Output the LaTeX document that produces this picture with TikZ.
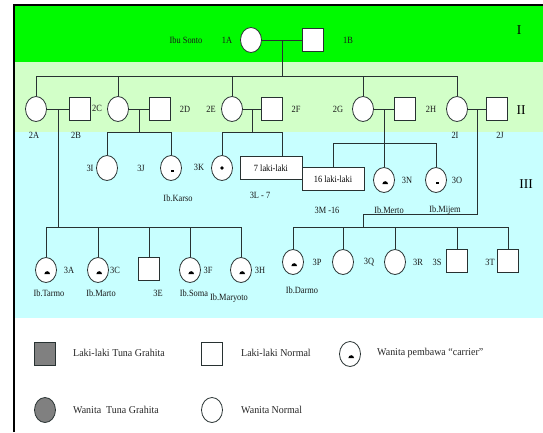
\documentclass[tikz,border=0pt]{standalone}
\usepackage{fontspec}
\setmainfont{Liberation Serif}
\newfontfamily\legfont[FakeStretch=0.95]{Liberation Serif}
\newfontfamily\lblfont[FakeStretch=0.88]{Liberation Serif}
\usetikzlibrary{shapes.geometric,calc}
\definecolor{bandA}{RGB}{0,250,0}
\definecolor{bandB}{RGB}{210,255,200}
\definecolor{bandC}{RGB}{200,255,255}
\definecolor{ln}{RGB}{40,50,50}
\definecolor{affected}{RGB}{128,128,128}
\tikzset{
  conn/.style={draw=ln, line width=0.8pt},
  fem/.style={ellipse, draw=ln, line width=0.8pt, fill=white, minimum width=21pt, minimum height=25pt, inner sep=0pt},
  male/.style={rectangle, draw=ln, line width=0.8pt, fill=white, minimum width=21pt, minimum height=23pt, inner sep=0pt},
  carrier/.style={fem, path picture={\fill[black] ([xshift=1.2pt,yshift=-4pt]path picture bounding box.center) ++(-2.8pt,0pt) arc[start angle=180,end angle=0,radius=2.8pt] -- cycle;}},
  dotcarrier/.style={fem, path picture={\fill[black] (path picture bounding box.center) circle[radius=1.8pt];}},
  dashcarrier/.style={fem, path picture={\fill[black] ([xshift=0pt,yshift=-4pt]path picture bounding box.center) rectangle ++(3.2pt,2.2pt);}},
  grpbox/.style={rectangle, draw=ln, line width=0.8pt, fill=white, minimum width=62pt, minimum height=23pt, inner sep=0pt, font=\lblfont\fontsize{9.5}{10}\selectfont},
  lbl/.style={font=\lblfont\fontsize{9.5}{11}\selectfont, inner sep=0pt, text=black!90},
  rom/.style={font=\fontsize{13.5}{15}\selectfont, inner sep=0pt},
  legtxt/.style={font=\legfont\fontsize{10.5}{12}\selectfont, anchor=west, inner sep=0pt, text=black!85}
}
\begin{document}
\begin{tikzpicture}[x=1pt,y=-1pt]
\useasboundingbox (0,0) rectangle (543,432);
\fill[white] (0,0) rectangle (543,432);
\fill[bandA] (14,5) rectangle (543,62);
\fill[bandB] (14,62) rectangle (543,132);
\fill[bandC] (14,132) rectangle (543,318);
\draw[line width=1.5pt] (14,432) -- (14,5) -- (543,5);

% Generation I
\node[fem] (1A) at (251,40) {};
\node[male] (1B) at (313,40) {};
\node[lbl] (tIbu) at (186,40) {Ibu Sonto};
\node[lbl] (t1A) at (227,40) {1A};
\node[lbl] (t1B) at (348,40) {1B};
\node[rom] (gI) at (519,30) {I};

% Generation II
\node[fem] (2A) at (36,109) {};
\node[male] (2B) at (80,109) {};
\node[fem] (2C) at (118,109) {};
\node[male] (2D) at (160,109) {};
\node[fem] (2E) at (232,109) {};
\node[male] (2F) at (272,109) {};
\node[fem] (2G) at (363,109) {};
\node[male] (2H) at (405,109) {};
\node[fem] (2I) at (457,109) {};
\node[male] (2J) at (497,109) {};
\node[lbl] (t2A) at (34,135) {2A};
\node[lbl] (t2B) at (76,135) {2B};
\node[lbl] (t2C) at (97,108) {2C};
\node[lbl] (t2D) at (185,109) {2D};
\node[lbl] (t2E) at (211,109) {2E};
\node[lbl] (t2F) at (296,109) {2F};
\node[lbl] (t2G) at (338,109) {2G};
\node[lbl] (t2H) at (431,109) {2H};
\node[lbl] (t2I) at (455,135) {2I};
\node[lbl] (t2J) at (500,135) {2J};
\node[rom] (gII) at (521,110) {II};

% Generation III upper
\node[fem] (3I) at (107,168) {};
\node[dashcarrier] (3J) at (171,168) {};
\node[dotcarrier] (3K) at (222,168) {};
\node[grpbox] (L7) at (271,168) {7 laki-laki};
\node[grpbox] (M16) at (333,179) {16 laki-laki};
\node[carrier] (3N) at (384,180) {};
\node[dashcarrier] (3O) at (436,180) {};
\node[lbl] (t3I) at (90,168) {3I};
\node[lbl] (t3J) at (141,168) {3J};
\node[lbl] (t3K) at (199,167) {3K};
\node[lbl] (tKarso) at (178,198) {Ib.Karso};
\node[lbl] (t3L) at (260,195) {3L - 7};
\node[lbl] (t3M) at (327,210) {3M -16};
\node[lbl] (t3N) at (407,180) {3N};
\node[lbl] (t3O) at (457,180) {3O};
\node[lbl] (tMerto) at (389,210) {Ib.Merto};
\node[lbl] (tMijem) at (445,210) {Ib.Mijem};
\node[rom] (gIII) at (526,184) {III};

% Generation III lower left
\node[carrier] (3A) at (46,270) {};
\node[carrier] (3C) at (98,270) {};
\node[male] (3E) at (149,269) {};
\node[carrier] (3F) at (190,270) {};
\node[carrier] (3H) at (241,270) {};
\node[lbl] (t3A) at (69,270) {3A};
\node[lbl] (t3C) at (115,270) {3C};
\node[lbl] (t3E) at (158,293) {3E};
\node[lbl] (t3F) at (208,270) {3F};
\node[lbl] (t3H) at (260,270) {3H};
\node[lbl] (tTarmo) at (49,293) {Ib.Tarmo};
\node[lbl] (tMarto) at (101,293) {Ib.Marto};
\node[lbl] (tSoma) at (194,293) {Ib.Soma};
\node[lbl] (tMaryoto) at (229,298) {Ib.Maryoto};

% Generation III lower right
\node[carrier] (3P) at (293,262) {};
\node[fem] (3Q) at (343,262) {};
\node[fem] (3R) at (395,262) {};
\node[male] (3S) at (457,261) {};
\node[male] (3T) at (508,261) {};
\node[lbl] (t3P) at (317,262) {3P};
\node[lbl] (t3Q) at (369,262) {3Q};
\node[lbl] (t3R) at (418,262) {3R};
\node[lbl] (t3S) at (437,262) {3S};
\node[lbl] (t3T) at (490,262) {3T};
\node[lbl] (tDarmo) at (302,290) {Ib.Darmo};

% Connectors
\coordinate (m1) at ($(1A.east)!0.5!(1B.west)$);
\coordinate (s1) at (282,76);
\draw[conn] (1A.east) -- (1B.west);
\draw[conn] (m1) -- (s1);
\draw[conn] (2A.north) |- (2I.north |- s1) -- (2I.north);
\draw[conn] (2C.north) -- (2C.north |- s1);
\draw[conn] (2E.north) -- (2E.north |- s1);
\draw[conn] (2G.north) -- (2G.north |- s1);

\draw[conn] (2A.east) -- (2B.west);
\draw[conn] (2C.east) -- (2D.west);
\draw[conn] (2E.east) -- (2F.west);
\draw[conn] (2G.east) -- (2H.west);
\draw[conn] (2I.east) -- (2J.west);

% 2A x 2B
\coordinate (m2A) at ($(2A.east)!0.5!(2B.west)$);
\coordinate (s2A) at (58,227);
\draw[conn] (m2A) -- (s2A);
\draw[conn] (3A.north) |- (3H.north |- s2A) -- (3H.north);
\draw[conn] (3C.north) -- (3C.north |- s2A);
\draw[conn] (3E.north) -- (3E.north |- s2A);
\draw[conn] (3F.north) -- (3F.north |- s2A);

% 2C x 2D
\coordinate (m2C) at ($(2C.east)!0.5!(2D.west)$);
\coordinate (s2C) at (139,132);
\draw[conn] (m2C) -- (s2C);
\draw[conn] (3I.north) |- (3J.north |- s2C) -- (3J.north);

% 2E x 2F
\coordinate (m2E) at ($(2E.east)!0.5!(2F.west)$);
\coordinate (s2E) at (252,132);
\coordinate (d7) at ([xshift=11pt]L7.north);
\draw[conn] (m2E) -- (s2E);
\draw[conn] (3K.north) |- (d7 |- s2E) -- (d7);

% 2G x 2H
\coordinate (m2G) at ($(2G.east)!0.5!(2H.west)$);
\coordinate (h2G) at (384,143);
\draw[conn] (m2G) -- (3N.north);
\draw[conn] (M16.north) |- (3O.north |- h2G) -- (3O.north);

% 2I x 2J
\coordinate (m2I) at ($(2I.east)!0.5!(2J.west)$);
\coordinate (c2I) at (363,214);
\coordinate (s2I) at (363,227);
\draw[conn] (m2I) |- (c2I) -- (s2I);
\draw[conn] (3P.north) |- (3T.north |- s2I) -- (3T.north);
\draw[conn] (3Q.north) -- (3Q.north |- s2I);
\draw[conn] (3R.north) -- (3R.north |- s2I);
\draw[conn] (3S.north) -- (3S.north |- s2I);

% Legend
\node[male, fill=affected] (kLM) at (45,354) {};
\node[legtxt] (tLM) at (73,353) {Laki-laki Tuna Grahita};
\node[male] (kLN) at (212,354) {};
\node[legtxt] (tLN) at (241,353) {Laki-laki Normal};
\node[carrier] (kWC) at (350,354) {};
\node[legtxt] (tWC) at (377,353) {Wanita pembawa “carrier”};
\node[fem, fill=affected] (kWM) at (45,410) {};
\node[legtxt] (tWM) at (73,410) {Wanita\ \ Tuna Grahita};
\node[fem] (kWN) at (212,410) {};
\node[legtxt] (tWN) at (241,410) {Wanita Normal};
\end{tikzpicture}
\end{document}
